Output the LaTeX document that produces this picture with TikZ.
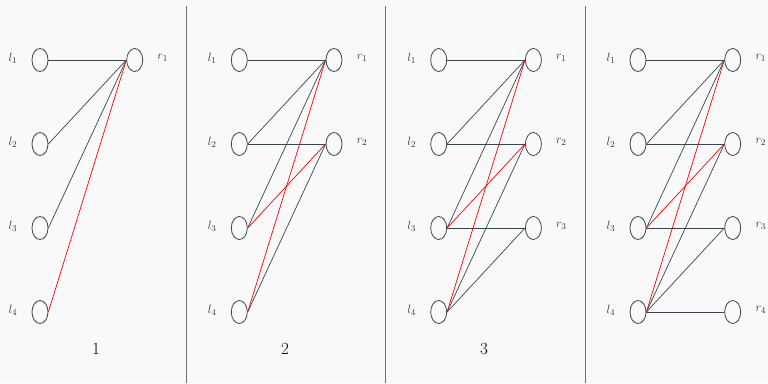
\documentclass[tikz,border=0pt]{standalone}
\usetikzlibrary{shapes.geometric}
\definecolor{bg}{HTML}{F9F9F9}
\definecolor{ink}{HTML}{37474F}
\definecolor{sep}{HTML}{65757B}
\begin{document}
\begin{tikzpicture}[x=1pt,y=-1pt,
  vert/.style={draw=ink,ellipse,line width=0.8pt,minimum width=16pt,minimum height=23pt,inner sep=0pt},
  lab/.style={text=ink!80!black,font=\fontsize{13}{15}\selectfont},
  num/.style={text=black,font=\fontsize{17}{19}\selectfont},
  edge/.style={draw=ink,line width=0.7pt},
  redge/.style={draw=red,line width=0.7pt},
  sepline/.style={draw=sep,line width=1.2pt}]
\fill[bg] (0,0) rectangle (768,383);
\useasboundingbox (0,0) rectangle (768,383);
% separators
\coordinate (s1t) at (186.5,6); \coordinate (s1b) at (186.5,383);
\coordinate (s2t) at (385.8,6); \coordinate (s2b) at (385.8,383);
\coordinate (s3t) at (585.1,6); \coordinate (s3b) at (585.1,383);
\draw[sepline] (s1t) -- (s1b);
\draw[sepline] (s2t) -- (s2b);
\draw[sepline] (s3t) -- (s3b);
% panels
\foreach \p/\ox/\nr in {a/40/1, b/239.3/2, c/438.7/3, d/638/4}{
  \foreach \i/\yy in {1/60,2/144,3/228,4/312}{
    \node[vert] (\p l\i) at (\ox,\yy) {};
    \node[lab] (\p ll\i) at (\ox-27,\yy-2) {$l_{\i}$};
  }
  \foreach \i/\yy in {1/60,2/144,3/228,4/312}{
    \ifnum\i>\nr\else
      \node[vert] (\p r\i) at (\ox+94.7,\yy) {};
      \node[lab] (\p rl\i) at (\ox+122.7,\yy-2) {$r_{\i}$};
    \fi
  }
}
\node[num] (n1) at (96,349) {1};
\node[num] (n2) at (285,349) {2};
\node[num] (n3) at (484,349) {3};
% panel 1
\draw[edge] (al1.east) -- (ar1.west);
\draw[edge] (al2.east) -- (ar1.west);
\draw[edge] (al3.east) -- (ar1.west);
\draw[redge] (al4.east) -- (ar1.west);
% panel 2
\draw[edge] (bl1.east) -- (br1.west);
\draw[edge] (bl2.east) -- (br1.west);
\draw[edge] (bl2.east) -- (br2.west);
\draw[edge] (bl3.east) -- (br1.west);
\draw[edge] (bl4.east) -- (br2.west);
\draw[redge] (bl3.east) -- (br2.west);
\draw[redge] (bl4.east) -- (br1.west);
% panel 3
\draw[edge] (cl1.east) -- (cr1.west);
\draw[edge] (cl2.east) -- (cr1.west);
\draw[edge] (cl2.east) -- (cr2.west);
\draw[edge] (cl3.east) -- (cr1.west);
\draw[edge] (cl3.east) -- (cr3.west);
\draw[edge] (cl4.east) -- (cr2.west);
\draw[edge] (cl4.east) -- (cr3.west);
\draw[redge] (cl3.east) -- (cr2.west);
\draw[redge] (cl4.east) -- (cr1.west);
% panel 4
\draw[edge] (dl1.east) -- (dr1.west);
\draw[edge] (dl2.east) -- (dr1.west);
\draw[edge] (dl2.east) -- (dr2.west);
\draw[edge] (dl3.east) -- (dr1.west);
\draw[edge] (dl3.east) -- (dr3.west);
\draw[edge] (dl4.east) -- (dr2.west);
\draw[edge] (dl4.east) -- (dr3.west);
\draw[edge] (dl4.east) -- (dr4.west);
\draw[redge] (dl3.east) -- (dr2.west);
\draw[redge] (dl4.east) -- (dr1.west);
\end{tikzpicture}
\end{document}
